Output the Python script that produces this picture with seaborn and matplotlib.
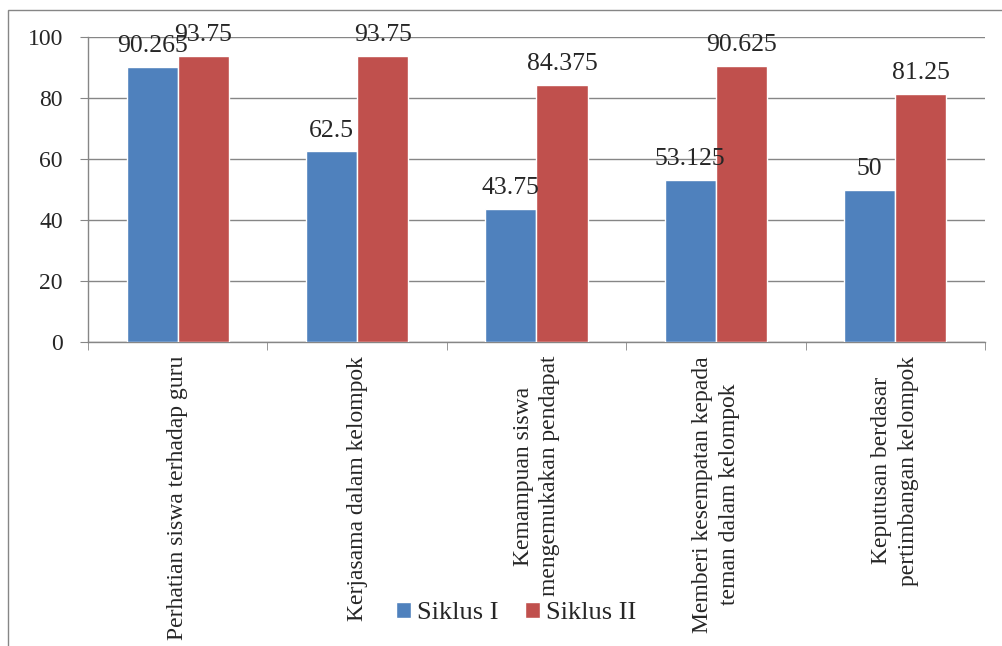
import matplotlib
matplotlib.use("Agg")
import matplotlib.pyplot as plt
import pandas as pd
import seaborn as sns
import numpy as np
from matplotlib.patches import Rectangle

categories = [
    "Perhatian siswa terhadap guru",
    "Kerjasama dalam kelompok",
    "Kemampuan siswa\nmengemukakan pendapat",
    "Memberi kesempatan kepada\nteman dalam kelompok",
    "Keputusan berdasar\npertimbangan kelompok",
]
siklus_1 = [90.265, 62.5, 43.75, 53.125, 50]
siklus_2 = [93.75, 93.75, 84.375, 90.625, 81.25]
series = ["Siklus I", "Siklus II"]
labels_1 = ["90.265", "62.5", "43.75", "53.125", "50"]
labels_2 = ["93.75", "93.75", "84.375", "90.625", "81.25"]

df = pd.DataFrame({
    "kategori": categories * 2,
    "nilai": siklus_1 + siklus_2,
    "siklus": [series[0]] * 5 + [series[1]] * 5,
})

sns.set_style("white")
plt.rcParams["font.family"] = ["Liberation Serif", "DejaVu Serif"]
grey = "#868686"

fig = plt.figure(figsize=(10.03, 6.46), dpi=100)
ax = fig.add_axes([0.0877, 0.4706, 0.8943, 0.4721])

sns.barplot(data=df, x="kategori", y="nilai", hue="siklus", order=categories,
            palette=["#4F81BD", "#C0504D"], width=0.57, saturation=1,
            ax=ax, zorder=3)

# label angka di atas batang
for cont, labs in zip(ax.containers, [labels_1, labels_2]):
    ax.bar_label(cont, labels=labs, padding=7, fontsize=18.5)

ax.set_ylim(0, 100)
ax.set_xlim(-0.5, 4.5)
ax.set_yticks(np.arange(0, 101, 20))
ax.yaxis.grid(True, color=grey, linewidth=1, zorder=0)
ax.set_axisbelow(True)
for s in ["top", "right"]:
    ax.spines[s].set_visible(False)
for s in ["left", "bottom"]:
    ax.spines[s].set_color(grey)
    ax.spines[s].set_linewidth(1)

ax.set_xlabel("")
ax.set_ylabel("")
ax.tick_params(axis="y", direction="out", length=6, color=grey, pad=12,
               labelsize=17, left=True)
ax.tick_params(axis="x", which="major", length=0, pad=10, labelsize=17,
               labelrotation=90)
for lbl in ax.get_xticklabels():
    lbl.set_linespacing(1.35)
ax.set_xticks(np.arange(-0.5, 5, 1), minor=True)
ax.tick_params(axis="x", which="minor", direction="out", length=6,
               color=grey, bottom=True)

leg = ax.legend(loc="center", bbox_to_anchor=(0.515, 0.051),
                bbox_transform=fig.transFigure, ncol=2, frameon=False,
                fontsize=19, handlelength=0.55, handleheight=0.55,
                handletextpad=0.25, columnspacing=1.0)

fig.patches.append(Rectangle((0.008, -0.5), 2, 1.4845, transform=fig.transFigure,
                             fill=False, edgecolor=grey, linewidth=1))

fig.savefig("out.png", dpi=100)
